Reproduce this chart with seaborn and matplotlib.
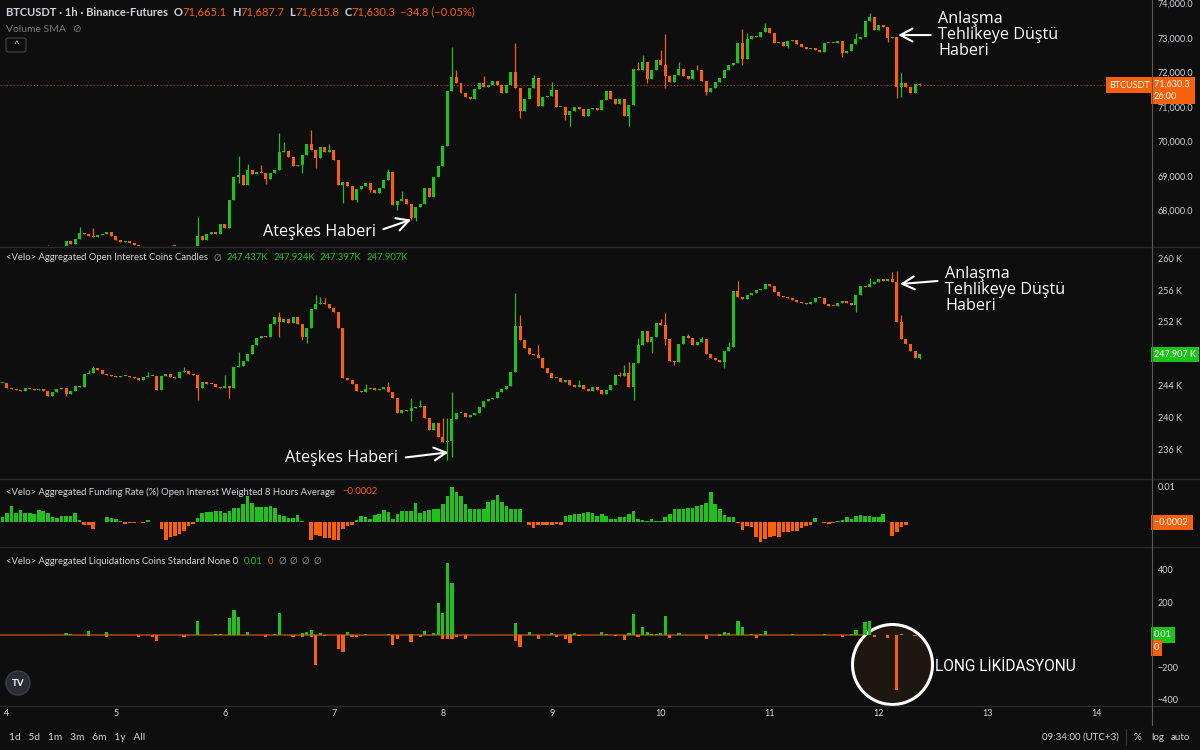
import numpy as np
import pandas as pd
import matplotlib
matplotlib.use("Agg")
import matplotlib.pyplot as plt
import seaborn as sns
from matplotlib.lines import Line2D
from matplotlib.patches import Ellipse, FancyBboxPatch

W, H = 1200, 750
BG = "#0e0e0e"
GREEN = "#1fc21a"
ORANGE = "#f8600c"
TXT = "#d1d4dc"
GREY = "#787b86"
SEP = "#2a2a2a"

# 1h bars, hours counted from day 4 00:00 (UTC+3)
first_hour = -1
day_ticks = [0, 24, 48, 72, 96, 120, 144, 168, 192, 216, 240]
day_labels = ["4", "5", "6", "7", "8", "9", "10", "11", "12", "13", "14"]

# ---- BTCUSDT 1h candles (open of each bar = previous close)
price_open0 = 66880
price_close = [
    66850, 66820, 66780, 66900, 66870, 66800, 66760, 66830, 66880, 66920, 66900, 66880, 66940,
    66985, 67110, 67035, 67180, 67350, 67315, 67275, 67235, 67305, 67335, 67370, 67255,
    67160, 67080, 67110, 67065, 67005, 66945, 66890, 66870, 66920, 66965, 66920, 66945,
    66985, 66965, 66920, 66890, 66945, 66965, 67255, 67160, 67325, 67380, 67325, 67620,
    67495, 68295, 68970, 69020, 68750, 69165, 69065, 69125, 69095, 68910, 69085, 69180,
    69685, 69730, 69565, 69300, 69325, 69595, 69915, 69740, 69520, 69835, 69685, 69760,
    69450, 68750, 68815, 68700, 68315, 68625, 68720, 68795, 68605, 68510, 68655, 68895,
    69105, 68170, 68285, 68335, 68200, 67785, 68105, 68200, 68655, 68385, 68970, 69280,
    69875, 71475, 71860, 71685, 71415, 71300, 71225, 71515, 71685, 71570, 71640, 71755,
    71640, 71415, 71640, 72025, 71545, 70870, 71225, 71545, 71830, 71030, 71280, 71330,
    71495, 70995, 71010, 70775, 70895, 70995, 70935, 70745, 70935, 70965, 70915, 71205,
    71475, 71225, 71090, 71225, 70745, 71060, 72090, 72055, 72295, 71810, 72055, 72360,
    72215, 71900, 71735, 71930, 72100, 71900, 71800, 72070, 72055, 71755, 71445, 71540,
    71715, 71850, 72070, 72215, 72265, 72845, 72380, 72960, 73055, 73035, 73160, 73295,
    73150, 72845, 72890, 72775, 72920, 72940, 72815, 72745, 72670, 72700, 72650, 72600,
    72860, 72845, 72860, 72900, 72575, 72630, 72815, 72970, 73035, 73500, 73615, 73230,
    73360, 73325, 72985, 73035, 71570, 71685, 71570, 71400, 71665.1, 71630.3,
]
price_highs = {9: 66990, 16: 67525, 19: 67496, 42: 67814, 51: 69587, 53: 69356, 56: 69327,
               60: 70242, 61: 69972, 67: 70319, 71: 69933, 84: 69202, 87: 68556, 98: 72727,
               99: 72072, 105: 71899, 112: 72862, 116: 71928, 120: 71735, 139: 72313,
               140: 72506, 144: 72650, 145: 73112, 148: 72313, 152: 72217, 162: 73247,
               163: 73132, 167: 73421, 187: 73132, 190: 73729, 197: 71976, 201: 71687.7}
price_lows = {51: 68797, 57: 68768, 65: 69086, 68: 69230, 74: 68219, 77: 68238, 80: 68527,
              86: 68026, 89: 67737, 90: 67689, 113: 70675, 123: 70608, 124: 70434,
              137: 70454, 141: 71706, 145: 71542, 154: 71350, 162: 72217, 172: 72698,
              184: 72457, 194: 72891, 196: 71253, 197: 71301, 201: 71615.8}
price_ticks = [68000, 69000, 70000, 71000, 72000, 73000, 74000]

# ---- Velo aggregated open interest candles (thousand coins)
oi_open0 = 244.30
oi_close = [
    244.36, 243.73, 243.56, 243.39, 243.35, 243.64, 243.56, 243.39, 243.52, 243.31, 242.72, 243.22, 243.56,
    243.73, 242.93, 243.35, 243.94, 243.77, 245.40, 245.53, 246.16, 245.95, 245.40, 245.32, 245.24,
    245.11, 245.19, 245.24, 245.11, 244.90, 244.69, 245.03, 245.19, 245.24, 243.43, 245.19, 245.40,
    245.11, 244.90, 245.74, 245.82, 245.40, 245.32, 243.64, 244.40, 244.23, 244.15, 243.85, 243.64,
    243.98, 243.64, 246.33, 246.49, 247.08, 247.96, 249.09, 249.93, 250.27, 250.14, 251.69, 252.66,
    251.95, 252.36, 251.82, 252.66, 251.69, 250.14, 251.19, 253.58, 254.21, 254.34, 254.21, 253.71,
    253.29, 251.19, 244.90, 244.69, 244.15, 243.31, 243.14, 243.56, 243.64, 243.43, 243.52, 243.77,
    243.22, 242.39, 240.50, 240.92, 240.83, 241.13, 241.34, 241.42, 239.87, 238.40, 239.24, 237.56,
    236.85, 237.02, 239.79, 240.50, 240.58, 240.08, 240.29, 240.58, 241.25, 242.09, 242.30, 242.39,
    243.22, 243.56, 243.98, 245.66, 251.48, 249.72, 248.67, 247.92, 247.84, 247.42, 246.16, 245.53,
    244.90, 244.98, 244.48, 244.69, 244.06, 243.85, 244.06, 243.52, 243.31, 243.85, 243.43, 242.89,
    243.43, 244.06, 245.32, 245.19, 245.53, 243.85, 246.79, 249.09, 250.86, 249.51, 250.14, 251.90,
    251.61, 249.81, 247.12, 246.99, 249.18, 250.27, 249.93, 249.09, 249.43, 249.81, 247.92, 247.50,
    247.21, 246.91, 248.34, 248.89, 255.93, 255.17, 254.88, 255.38, 255.59, 256.01, 256.10, 256.77,
    256.56, 255.80, 255.30, 255.17, 254.96, 254.76, 254.55, 254.34, 254.25, 254.55, 255.05, 255.05,
    254.21, 254.04, 254.00, 254.34, 254.63, 254.34, 254.12, 255.38, 256.56, 256.43, 256.72, 257.06,
    257.35, 257.14, 257.35, 256.98, 252.03, 249.85, 249.22, 248.34, 247.437, 247.907,
]
oi_highs = {18: 245.95, 19: 246.45, 31: 245.74, 39: 246.33, 48: 245.32, 51: 248.17, 60: 253.29,
            68: 255.38, 69: 255.17, 70: 254.96, 79: 244.15, 84: 244.48, 89: 242.39, 91: 242.17,
            96: 239.87, 97: 239.87, 98: 243.22, 112: 255.59, 113: 252.87, 117: 249.09,
            126: 244.69, 135: 245.66, 136: 246.58, 137: 246.99, 139: 249.93, 144: 252.36,
            145: 253.08, 150: 250.44, 153: 250.14, 159: 249.51, 161: 257.14, 190: 257.48,
            195: 258.32, 196: 258.40, 197: 252.87, 201: 247.924}
oi_lows = {13: 242.72, 42: 242.17, 49: 242.47, 60: 250.14, 65: 249.72, 66: 249.39, 89: 239.55,
           97: 234.63, 98: 235.05, 138: 242.17, 142: 248.05, 145: 249.09, 147: 246.58,
           158: 246.16, 187: 253.29, 201: 247.397}
oi_ticks = [236, 240, 244, 252, 256, 260]

# ---- funding rate (%), OI weighted 8h average, one bar per hour
funding = [
    0.0013, 0.0026, 0.0043, 0.0026, 0.0032, 0.0026, 0.0025, 0.0022, 0.0034, 0.0029,
    0.0026, 0.0012, 0.0010, 0.0015, 0.0015, 0.0015, 0.0025, 0.0006, -0.0010, -0.0010,
    -0.0020, -0.0002, -0.0002, 0.0012, 0.0010, 0.0008, 0.0003, -0.0006, -0.0004, -0.0004,
    -0.0002, -0.0004, 0.0004, -0.0001, -0.0002, -0.0020, -0.0051, -0.0044, -0.0039, -0.0035,
    -0.0027, -0.0013, -0.0007, 0.0010, 0.0025, 0.0027, 0.0027, 0.0029, 0.0029, 0.0026,
    0.0031, 0.0039, 0.0039, 0.0050, 0.0072, 0.0053, 0.0041, 0.0041, 0.0041, 0.0045,
    0.0039, 0.0018, 0.0015, 0.0010, 0.0010, 0.0018, 0.0003, -0.0002, -0.0051, -0.0037,
    -0.0041, -0.0046, -0.0046, -0.0053, -0.0053, -0.0020, -0.0013, -0.0010, 0.0006, 0.0015,
    0.0013, 0.0008, 0.0018, 0.0022, 0.0032, 0.0027, 0.0008, 0.0022, 0.0029, 0.0029,
    0.0031, 0.0053, 0.0025, 0.0029, 0.0032, 0.0037, 0.0037, 0.0050, 0.0072, 0.0098,
    0.0083, 0.0072, 0.0050, 0.0037, 0.0037, 0.0037, 0.0037, 0.0056, 0.0062, 0.0075,
    0.0056, 0.0043, 0.0036, 0.0036, 0.0036, -0.0002, -0.0010, -0.0018, -0.0008, -0.0010,
    -0.0010, -0.0008, -0.0006, -0.0008, 0.0015, 0.0020, 0.0022, 0.0022, 0.0025, 0.0027,
    0.0026, 0.0017, 0.0023, 0.0017, 0.0008, 0.0008, 0.0013, 0.0013, 0.0022, 0.0030,
    0.0008, 0.0006, 0.0001, 0.0008, 0.0001, 0.0003, 0.0013, 0.0022, 0.0037, 0.0037,
    0.0037, 0.0039, 0.0039, 0.0043, 0.0048, 0.0053, 0.0083, 0.0050, 0.0036, 0.0020,
    0.0012, 0.0013, -0.0004, -0.0023, -0.0011, -0.0015, -0.0043, -0.0056, -0.0049, -0.0044,
    -0.0039, -0.0043, -0.0029, -0.0030, -0.0027, -0.0027, -0.0018, -0.0011, -0.0008, 0.0010,
    -0.0002, -0.0005, -0.0006, -0.0004, 0.0001, 0.0004, 0.0012, 0.0008, 0.0015, 0.0020,
    0.0015, 0.0015, 0.0012, 0.0012, 0.0022, -0.0002, -0.0041, -0.0029, -0.0016, -0.0008,
    -0.0002, -0.0002, -0.0002,
]

# ---- liquidations (coins): green bars above zero, orange bars below zero
liq_up_hours = [13, 14, 18, 22, 42, 46, 47, 49, 50, 51, 53, 59, 60, 65, 66, 67, 69, 75, 79, 84,
                89, 92, 94, 95, 96, 97, 98, 112, 115, 120, 124, 125, 131, 132, 137, 138, 140,
                141, 142, 143, 144, 145, 148, 157, 158, 159, 161, 162, 164, 166, 167, 173, 180,
                186, 187, 189, 190, 197]
liq_up_vals = [10, 6, 23, 16, 86, 6, 6, 103, 156, 111, 18, 4, 135, 10, 16, 31, 10, 16, 6, 5,
               8, 25, 10, 197, 135, 441, 318, 76, 16, 10, 6, 10, 18, 6, 10, 131, 49,
               18, 6, 6, 10, 117, 10, 6, 16, 10, 86, 51, 4, 6, 23, 4, 4,
               6, 31, 80, 88, 6]
liq_down_hours = [18, 22, 29, 32, 33, 39, 57, 63, 65, 67, 68, 70, 73, 74, 76, 77, 85, 86, 89, 91,
                  96, 97, 98, 99, 101, 112, 113, 117, 121, 123, 124, 126, 134, 136, 139, 146,
                  154, 157, 165, 184, 191, 194, 196, 200]
liq_down_vals = [-6, -10, -12, -10, -35, -12, -10, -10, -12, -10, -185, -6, -86, -103, -12, -10,
                 -59, -23, -41, -10, -23, -27, -23, -14, -23, -37, -74, -23, -10, -27, -51, -6,
                 -6, -31, -14, -20, -25, -6, -16, -14, -10, -16, -340, -4]
liq_ticks = [-400, -200, 200, 400]

hours = first_hour + np.arange(len(price_close))

sns.set_theme(style="dark", rc={"axes.facecolor": BG, "figure.facecolor": BG,
                                "savefig.facecolor": BG})
plt.rcParams["font.family"] = ["Lato", "DejaVu Sans"]
plt.rcParams["axes.unicode_minus"] = True

fig = plt.figure(figsize=(12, 7.5), dpi=100)


def rect(top, bottom):
    return [0, 1 - bottom / H, 1152 / W, (bottom - top) / H]


ax_p = fig.add_axes(rect(0, 246))
ax_oi = fig.add_axes(rect(248, 478), sharex=ax_p)
ax_f = fig.add_axes(rect(480, 546), sharex=ax_p)
ax_l = fig.add_axes(rect(548, 705), sharex=ax_p)


def candles(ax, open0, close, highs, lows, min_body):
    close = np.asarray(close, float)
    opn = np.r_[open0, close[:-1]]
    top = np.maximum(opn, close)
    bot = np.minimum(opn, close)
    hi, lo = top.copy(), bot.copy()
    for h, v in highs.items():
        hi[h - first_hour] = v
    for h, v in lows.items():
        lo[h - first_hour] = v
    cols = np.where(close >= opn, GREEN, ORANGE)
    ax.vlines(hours, lo, hi, colors=cols, lw=0.9, zorder=2)
    ax.bar(hours, np.maximum(top - bot, min_body), bottom=bot, width=0.66,
           color=cols, lw=0, zorder=3)


candles(ax_p, price_open0, price_close, price_highs, price_lows, 25)
candles(ax_oi, oi_open0, oi_close, oi_highs, oi_lows, 0.12)
ax_p.axhline(price_close[-1], color=ORANGE, ls=(0, (1, 2)), lw=0.8, alpha=0.7, zorder=1)

fund_df = pd.DataFrame({"hour": hours, "rate": funding})
fund_df["side"] = np.where(fund_df["rate"] >= 0, "up", "down")
sns.barplot(data=fund_df, x="hour", y="rate", hue="side",
            palette={"up": GREEN, "down": ORANGE}, native_scale=True, dodge=False,
            width=0.8, saturation=1, errorbar=None, linewidth=0, legend=False, ax=ax_f)

liq_df = pd.DataFrame({"hour": liq_up_hours + liq_down_hours,
                       "coins": liq_up_vals + liq_down_vals})
liq_df["side"] = np.where(liq_df["coins"] >= 0, "up", "down")
ax_l.hlines(0, hours[0] - 0.5, hours[-1] + 0.5, color="#8a3c12", lw=1.4, zorder=1)
ax_l.scatter([195], [-178], s=3318, facecolor="#1e1710", edgecolor="white",
             linewidth=2.2, zorder=1.5)
sns.barplot(data=liq_df, x="hour", y="coins", hue="side",
            palette={"up": GREEN, "down": ORANGE}, native_scale=True, dodge=False,
            width=0.7, saturation=1, errorbar=None, linewidth=0, legend=False,
            ax=ax_l, zorder=2)

ax_p.set_xlim(-1.54, 252.2)
ax_p.set_ylim(66975, 74095)
ax_oi.set_ylim(232.37, 261.3)
ax_f.set_ylim(-0.00686, 0.01178)
ax_l.set_ylim(-431, 535)

ax_p.set_yticks(price_ticks, [f"{v:,.1f}" for v in price_ticks])
ax_oi.set_yticks(oi_ticks, [f"{v} K" for v in oi_ticks])
ax_f.set_yticks([0.01], ["0.01"])
ax_l.set_yticks(liq_ticks, [str(v).replace("-", "\u2212") for v in liq_ticks])
ax_l.set_xticks(day_ticks, day_labels)

for ax in (ax_p, ax_oi, ax_f, ax_l):
    ax.set_facecolor(BG)
    ax.set_xlabel("")
    ax.set_ylabel("")
    ax.grid(False)
    for s in ax.spines.values():
        s.set_visible(False)
    ax.yaxis.tick_right()
    ax.tick_params(axis="y", length=0, pad=4, labelsize=6.5, labelcolor=TXT)
    ax.tick_params(axis="x", length=0, labelbottom=False)
ax_l.tick_params(axis="x", labelbottom=True, pad=3, labelsize=6.5, labelcolor=TXT)

# panel separators and price scale border
for yy in (247, 479, 547, 706):
    fig.add_artist(Line2D([0, 1], [1 - yy / H] * 2, color=SEP, lw=1))
fig.add_artist(Line2D([1152 / W] * 2, [1, 1 - 725 / H], color="#5a5a5a", lw=0.8))


def tag(ax, y, s, fc, dy=0, left=False, va="center"):
    ax.annotate(s, xy=(1, y), xycoords=("axes fraction", "data"),
                xytext=(-2 if left else 2, dy), textcoords="offset pixels",
                ha="right" if left else "left", va=va, fontsize=6.5,
                color="white", linespacing=1.4, annotation_clip=False,
                bbox=dict(boxstyle="square,pad=0.35", fc=fc, ec="none"))


tag(ax_p, price_close[-1], "71,630.3 \n26:00", ORANGE, dy=5, va="top")
tag(ax_p, price_close[-1], "BTCUSDT", ORANGE, left=True)
tag(ax_oi, oi_close[-1], "247.907 K", GREEN)
tag(ax_f, funding[-1], "\u22120.0002 ", ORANGE)
tag(ax_l, 0, "0.01", GREEN, dy=0)
tag(ax_l, 0, "0", ORANGE, dy=-13)

# header lines
renderer = fig.canvas.get_renderer()


def chain(y, parts, x=6, size=6.8):
    for s, color, gap, weight in parts:
        t = fig.text(x / W, 1 - y / H, s, color=color, fontsize=size,
                     fontweight=weight, ha="left", va="center")
        x += t.get_window_extent(renderer).width + gap


chain(12, [("BTCUSDT \u00b7 1h \u00b7 Binance-Futures", TXT, 6, "bold"),
           ("O", TXT, 0, "bold"), ("71,665.1", ORANGE, 5, "normal"),
           ("H", TXT, 0, "bold"), ("71,687.7", ORANGE, 5, "normal"),
           ("L", TXT, 0, "bold"), ("71,615.8", ORANGE, 5, "normal"),
           ("C", TXT, 0, "bold"), ("71,630.3", ORANGE, 5, "normal"),
           ("\u221234.8 (\u22120.05%)", ORANGE, 0, "normal")], size=8)
chain(29, [("Volume SMA", GREY, 6, "normal"), ("\u2298", GREY, 0, "normal")], size=7.5)
fig.add_artist(FancyBboxPatch((6 / W, 1 - 52 / H), 20 / W, 14 / H,
                              boxstyle="round,pad=0,rounding_size=0.003",
                              transform=fig.transFigure, fc="none", ec="#3a3a3a", lw=1))
fig.text(16 / W, 1 - 45 / H, "^", color=TXT, fontsize=7, ha="center", va="center")

chain(258, [("<Velo> Aggregated Open Interest Coins Candles", TXT, 6, "normal"),
            ("\u00d8", GREY, 5, "normal"), ("247.437K", GREEN, 5, "normal"),
            ("247.924K", GREEN, 5, "normal"), ("247.397K", GREEN, 5, "normal"),
            ("247.907K", GREEN, 0, "normal")])
chain(492, [("<Velo> Aggregated Funding Rate (%) Open Interest Weighted 8 Hours Average",
             TXT, 7, "normal"), ("\u22120.0002", ORANGE, 0, "normal")])
chain(561, [("<Velo> Aggregated Liquidations Coins Standard None 0", TXT, 6, "normal"),
            ("0.01", GREEN, 5, "normal"), ("0", ORANGE, 5, "normal"),
            ("\u00d8", GREY, 4, "normal"), ("\u00d8", GREY, 4, "normal"),
            ("\u00d8", GREY, 4, "normal"), ("\u00d8", GREY, 0, "normal")])

# drawings on the chart
note_font = ["Open Sans", "DejaVu Sans"]
arrow = dict(arrowstyle="->,head_length=0.75,head_width=0.4", color="white", lw=1.5,
             shrinkA=3, shrinkB=0)
ax_p.annotate("Ate\u015fkes Haberi", xy=(89, 67737), xytext=(-35, -12),
              textcoords="offset pixels", ha="right", va="center", color="white",
              fontsize=11.6, family=note_font, arrowprops=dict(arrow, relpos=(1, 0.5)))
ax_p.annotate("Anla\u015fma\nTehlikeye D\u00fc\u015ft\u00fc\nHaberi", xy=(196.3, 73080),
              xytext=(40, 0), textcoords="offset pixels", ha="left", va="center",
              color="white", fontsize=11.6, family=note_font, linespacing=1.0,
              arrowprops=dict(arrow, relpos=(0, 0.5)), annotation_clip=False)
ax_oi.annotate("Ate\u015fkes Haberi", xy=(97.2, 235.6), xytext=(-50, -6),
               textcoords="offset pixels", ha="right", va="center", color="white",
               fontsize=11.6, family=note_font, arrowprops=dict(arrow, relpos=(1, 0.5)))
ax_oi.annotate("Anla\u015fma\nTehlikeye D\u00fc\u015ft\u00fc\nHaberi", xy=(196.7, 256.77),
               xytext=(45, -6), textcoords="offset pixels", ha="left", va="center",
               color="white", fontsize=11.6, family=note_font, linespacing=1.0,
               arrowprops=dict(arrow, relpos=(0, 0.7)), annotation_clip=False)
ax_l.annotate("LONG L\u0130K\u0130DASYONU", xy=(195, -178), xytext=(43, -3),
              textcoords="offset pixels", ha="left", va="center", color="white",
              fontsize=11.2, family=["Roboto", "DejaVu Sans"])

# tradingview logo and bottom toolbar
fig.add_artist(Ellipse((18 / W, 1 - 683 / H), 24 / W, 24 / H, transform=fig.transFigure,
                       fc="#2a2d35", ec="#3c3f48", lw=1))
fig.text(18 / W, 1 - 683 / H, "TV", color="white", fontsize=7, fontweight="bold",
         ha="center", va="center")
fig.text(9 / W, 1 - 737 / H, "1d   5d   1m   3m   6m   1y   All", color=TXT,
         fontsize=7.3, va="center")
fig.text(1042 / W, 1 - 737 / H, "09:34:00 (UTC+3)", color=TXT, fontsize=7, va="center")
fig.add_artist(Line2D([1126 / W] * 2, [1 - 729 / H, 1 - 745 / H], color="#3a3a3a", lw=0.8))
fig.text(1134 / W, 1 - 737 / H, "%", color=TXT, fontsize=7, va="center")
fig.text(1151 / W, 1 - 737 / H, "log", color=TXT, fontsize=7, va="center")
fig.text(1171 / W, 1 - 737 / H, "auto", color=TXT, fontsize=7, va="center")

fig.savefig("out.png", dpi=100, facecolor=BG)
